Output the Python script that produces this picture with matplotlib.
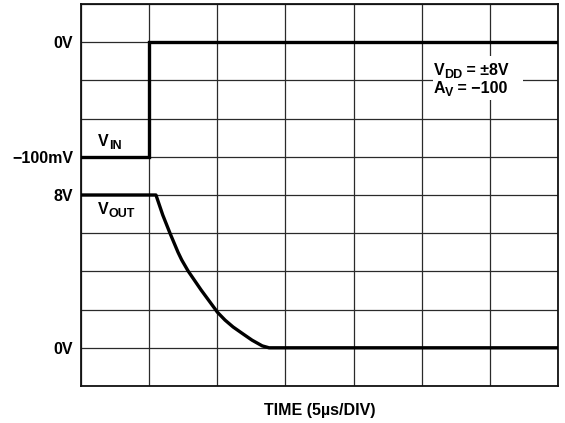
import matplotlib
matplotlib.use("Agg")
import matplotlib.pyplot as plt
from matplotlib.transforms import offset_copy
import numpy as np

plt.rcParams['font.family'] = ['Liberation Sans', 'DejaVu Sans']
plt.rcParams['font.weight'] = 'bold'

# Data (time in microseconds)
vin_t = [0, 5, 5, 35]
vin_mv = [-100, -100, 0, 0]
vout_t = [0, 5.5, 6.0, 6.53, 7.12, 7.39, 7.86, 8.81, 9.84, 10.0, 10.57,
          11.16, 11.9, 12.55, 13.3, 13.8, 35]
vout_v = [8, 8, 6.95, 6.0, 5.0, 4.6, 4.02, 3.03, 2.03, 1.87, 1.45,
          1.09, 0.72, 0.4, 0.1, 0.0, 0]

fs = 11.5
sfs = 9.0
fig = plt.figure(figsize=(5.65, 4.23), dpi=100)
renderer = fig.canvas.get_renderer()
ax = fig.add_axes([81/565, 37/423, 477/565, 382/423])
ax.set_xlim(0, 35)
ax.set_ylim(-2, 18)
ax.set_xticks(np.arange(0, 36, 5))
ax.set_xticklabels([])
ax.set_yticks(np.arange(-2, 19, 2))
ax.set_yticklabels(['' if v not in (0, 8) else f'{v}V' for v in range(-2, 19, 2)],
                   fontsize=fs, fontweight='bold')
ax.tick_params(length=0, pad=5.5)
ax.grid(True, color='#2a2a2a', lw=0.9, zorder=1)
ax.set_axisbelow(True)
for s in ax.spines.values():
    s.set_linewidth(1.3)
    s.set_color('#111111')

ax2 = ax.twinx()
ax2.set_ylim(-300, 100/3)
ax2.yaxis.set_ticks_position('left')
ax2.set_yticks([-100, 0])
ax2.set_yticklabels(['\u2212100mV', '0V'], fontsize=fs, fontweight='bold')
ax2.tick_params(length=0, pad=5.5)
for s in ax2.spines.values():
    s.set_visible(False)

ax.plot(vout_t, vout_v, color='black', lw=2.4, zorder=5, solid_joinstyle='round')
ax2.plot(vin_t, vin_mv, color='black', lw=2.4, zorder=5, solid_joinstyle='miter')


def rich(axis, x, y, parts, transform):
    xoff = 0.0
    for s, size, dy in parts:
        tr = offset_copy(transform, fig=fig, x=xoff, y=dy, units='points')
        t = axis.text(x, y, s, transform=tr, fontsize=size, fontweight='bold',
                      ha='left', va='baseline', zorder=6)
        w = t.get_window_extent(renderer).width
        xoff += w * 72 / fig.dpi


# white box for annotation
rect = plt.Rectangle((0.738, 0.749), 0.189, 0.116, transform=ax.transAxes,
                     facecolor='white', edgecolor='none', zorder=3)
ax.add_patch(rect)
rich(ax, 0.739, 0.814, [('V', fs, 0), ('DD', sfs, -2.2), (' = \u00b18V', fs, 0)], ax.transAxes)
rich(ax, 0.739, 0.767, [('A', fs, 0), ('V', sfs, -2.2), (' = \u2212100', fs, 0)], ax.transAxes)

rich(ax2, 1.25, -90.6, [('V', fs, 0), ('IN', sfs, -2.2)], ax2.transData)
rich(ax, 1.25, 7.0, [('V', fs, 0), ('OUT', sfs, -2.2)], ax.transData)

fig.text(319.5/565, 1 - 410/423, 'TIME (5\u00b5s/DIV)', fontsize=fs,
         fontweight='bold', ha='center', va='center')

fig.savefig('out.png', dpi=100)
